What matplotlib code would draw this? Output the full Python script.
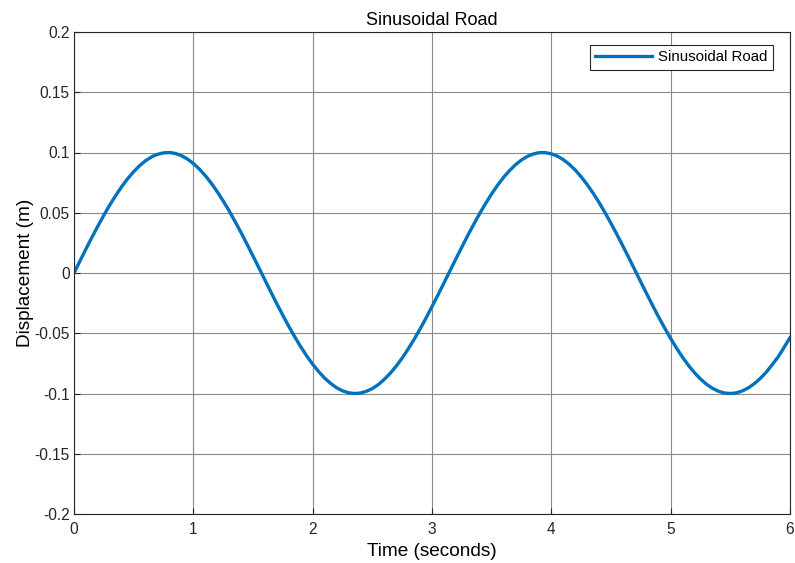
import matplotlib
matplotlib.use("Agg")
import matplotlib.pyplot as plt

plt.rcParams['font.family'] = ['Liberation Sans', 'DejaVu Sans']

# road profile samples, every 0.05 s (displacement in m)
t = [i * 0.05 for i in range(121)]
road = [0.0, 0.0100, 0.0199, 0.0296, 0.0389, 0.0479, 0.0565, 0.0644, 0.0717, 0.0783,
        0.0841, 0.0891, 0.0932, 0.0964, 0.0985, 0.0997, 0.1000, 0.0992, 0.0974, 0.0946,
        0.0909, 0.0863, 0.0808, 0.0746, 0.0675, 0.0598, 0.0516, 0.0427, 0.0335, 0.0239,
        0.0141, 0.0042, -0.0058, -0.0158, -0.0256, -0.0351, -0.0443, -0.0530, -0.0612, -0.0688,
        -0.0757, -0.0818, -0.0872, -0.0916, -0.0952, -0.0978, -0.0994, -0.1000, -0.0996, -0.0982,
        -0.0959, -0.0926, -0.0883, -0.0832, -0.0773, -0.0706, -0.0631, -0.0551, -0.0465, -0.0374,
        -0.0279, -0.0182, -0.0083, 0.0017, 0.0117, 0.0215, 0.0312, 0.0405, 0.0494, 0.0578,
        0.0657, 0.0729, 0.0794, 0.0850, 0.0899, 0.0938, 0.0968, 0.0988, 0.0999, 0.0999,
        0.0989, 0.0970, 0.0941, 0.0902, 0.0855, 0.0798, 0.0734, 0.0663, 0.0585, 0.0501,
        0.0412, 0.0319, 0.0223, 0.0125, 0.0025, -0.0075, -0.0174, -0.0272, -0.0367, -0.0457,
        -0.0544, -0.0625, -0.0700, -0.0768, -0.0828, -0.0880, -0.0923, -0.0957, -0.0981, -0.0996,
        -0.1000, -0.0995, -0.0979, -0.0954, -0.0919, -0.0876, -0.0824, -0.0762, -0.0697, -0.0618,
        -0.0537]

xticks = [0, 1, 2, 3, 4, 5, 6]
yticks = [-0.2, -0.15, -0.1, -0.05, 0, 0.05, 0.1, 0.15, 0.2]
ylabels = ['-0.2', '-0.15', '-0.1', '-0.05', '0', '0.05', '0.1', '0.15', '0.2']

fig = plt.figure(figsize=(7.95, 5.63), dpi=100)
ax = fig.add_axes([74 / 795, 49 / 563, 716 / 795, 482 / 563])

ax.plot(t, road, color='#0072BD', linewidth=2.4, solid_joinstyle='round',
        label='Sinusoidal Road')

ax.set_xlim(0, 6)
ax.set_ylim(-0.2, 0.2)
ax.set_xticks(xticks)
ax.set_yticks(yticks)
ax.set_yticklabels(ylabels)
ax.tick_params(direction='in', length=4, width=0.8, labelsize=11.2, colors='#262626')
ax.tick_params(axis='x', pad=6)
ax.tick_params(axis='y', pad=3)
ax.grid(True, color='#8a8a8a', linewidth=0.8)
for s in ax.spines.values():
    s.set_color('#262626')
    s.set_linewidth(0.8)

ax.set_title('Sinusoidal Road', fontsize=13, color='#000000', pad=5)
ax.set_xlabel('Time (seconds)', fontsize=13.7, labelpad=4)
ax.set_ylabel('Displacement (m)', fontsize=13.7, labelpad=0)

leg = ax.legend(loc='upper right', bbox_to_anchor=(699 / 716, 1 - 13 / 482),
                fontsize=10.8, fancybox=False, framealpha=1,
                edgecolor='#262626', handlelength=3.8, borderaxespad=0,
                borderpad=0.35, handletextpad=0.4)
leg.get_frame().set_linewidth(0.8)

fig.savefig('out.png', dpi=100)
